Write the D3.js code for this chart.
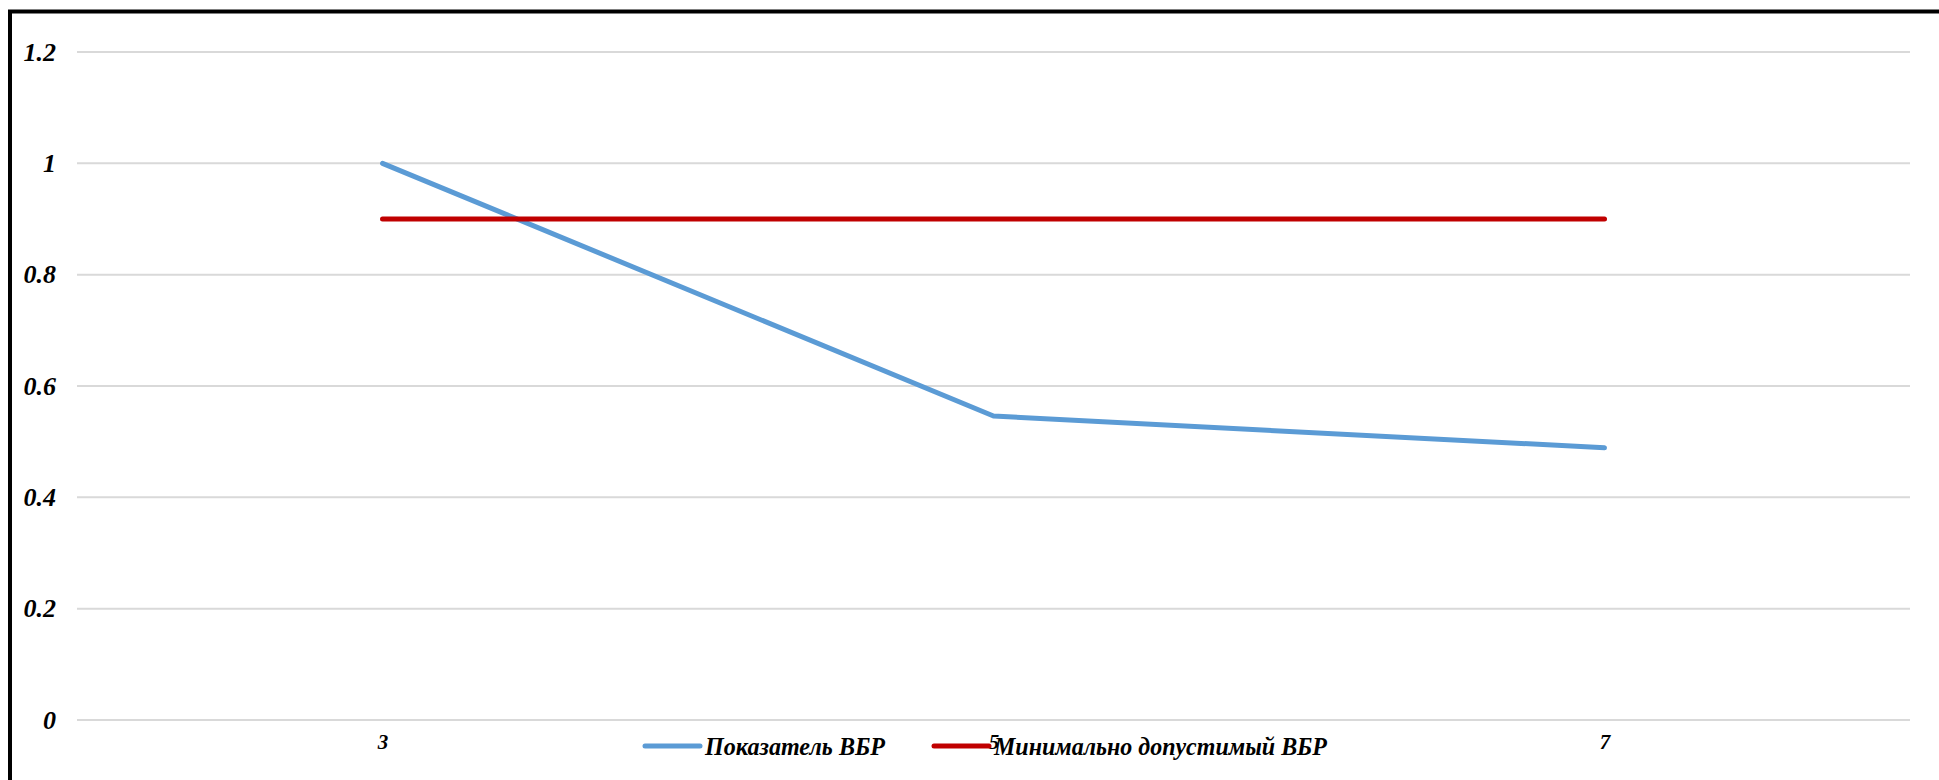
<!DOCTYPE html>
<html>
<head>
<meta charset="utf-8">
<script src="https://cdn.jsdelivr.net/npm/d3@7"></script>
<style>
  body { margin: 0; background: #fff; }
  svg { display: block; }
</style>
</head>
<body>
<svg id="chart" width="1939" height="780"></svg>
<script>
const categories = ['3', '5', '7']
const vbrValues = [1, 0.546, 0.489]
const minValues = [0.9, 0.9, 0.9]
const yTicks = [0, 0.2, 0.4, 0.6, 0.8, 1, 1.2]
const seriesNames = ['Показатель ВБР', 'Минимально допустимый ВБР']
const seriesColors = ['#5B9BD5', '#C00000']

const svg = d3.select('#chart')
const font = '"Liberation Serif", "Times New Roman", serif'

const plotLeft = 77, plotRight = 1910, plotTop = 52, plotBottom = 720

// frame (only top and left edges are inside the picture)
svg.append('rect')
  .attr('x', 10).attr('y', 11.5)
  .attr('width', 2000).attr('height', 1000)
  .attr('fill', 'none')
  .attr('stroke', '#000')
  .attr('stroke-width', 4)

const x = d3.scalePoint()
  .domain(categories)
  .range([plotLeft, plotRight])
  .padding(0.5)

const y = d3.scaleLinear()
  .domain([0, 1.2])
  .range([plotBottom, plotTop])

// gridlines
svg.append('g')
  .selectAll('line')
  .data(yTicks)
  .enter()
  .append('line')
    .attr('x1', plotLeft).attr('x2', plotRight)
    .attr('y1', d => y(d)).attr('y2', d => y(d))
    .attr('stroke', '#D9D9D9')
    .attr('stroke-width', 2)

// y axis labels
const yAxis = d3.axisLeft(y)
  .tickValues(yTicks)
  .tickSize(0)
  .tickPadding(0)
  .tickFormat(d => String(d))

svg.append('g')
  .attr('transform', 'translate(56, 0)')
  .call(yAxis)
  .call(g => g.select('.domain').remove())
  .selectAll('text')
    .style('font-family', font)
    .style('font-size', '26px')
    .style('font-weight', 'bold')
    .style('font-style', 'italic')
    .style('fill', '#000')

// x axis labels
const xAxis = d3.axisBottom(x)
  .tickSize(0)
  .tickPadding(0)

svg.append('g')
  .attr('transform', `translate(0, ${plotBottom + 14})`)
  .call(xAxis)
  .call(g => g.select('.domain').remove())
  .selectAll('text')
    .style('font-family', font)
    .style('font-size', '21px')
    .style('font-weight', 'bold')
    .style('font-style', 'italic')
    .style('fill', '#000')

const line = d3.line()
  .x((d, i) => x(categories[i]))
  .y(d => y(d))

;[vbrValues, minValues].forEach((values, i) => {
  svg.append('path')
    .datum(values)
    .attr('d', line)
    .attr('fill', 'none')
    .attr('stroke', seriesColors[i])
    .attr('stroke-width', 5)
    .attr('stroke-linecap', 'round')
    .attr('stroke-linejoin', 'round')
})

// legend
const legendX = [645, 934]
const legendTextWidth = [180, 333]
const legend = svg.append('g')

seriesNames.forEach((name, i) => {
  legend.append('line')
    .attr('x1', legendX[i]).attr('x2', legendX[i] + 55)
    .attr('y1', 746).attr('y2', 746)
    .attr('stroke', seriesColors[i])
    .attr('stroke-width', 5)
    .attr('stroke-linecap', 'round')

  legend.append('text')
    .attr('x', legendX[i] + 60)
    .attr('y', 755)
    .attr('textLength', legendTextWidth[i])
    .attr('lengthAdjust', 'spacingAndGlyphs')
    .style('font-family', font)
    .style('font-size', '26px')
    .style('font-weight', 'bold')
    .style('font-style', 'italic')
    .style('fill', '#000')
    .text(name)
})
</script>
</body>
</html>
